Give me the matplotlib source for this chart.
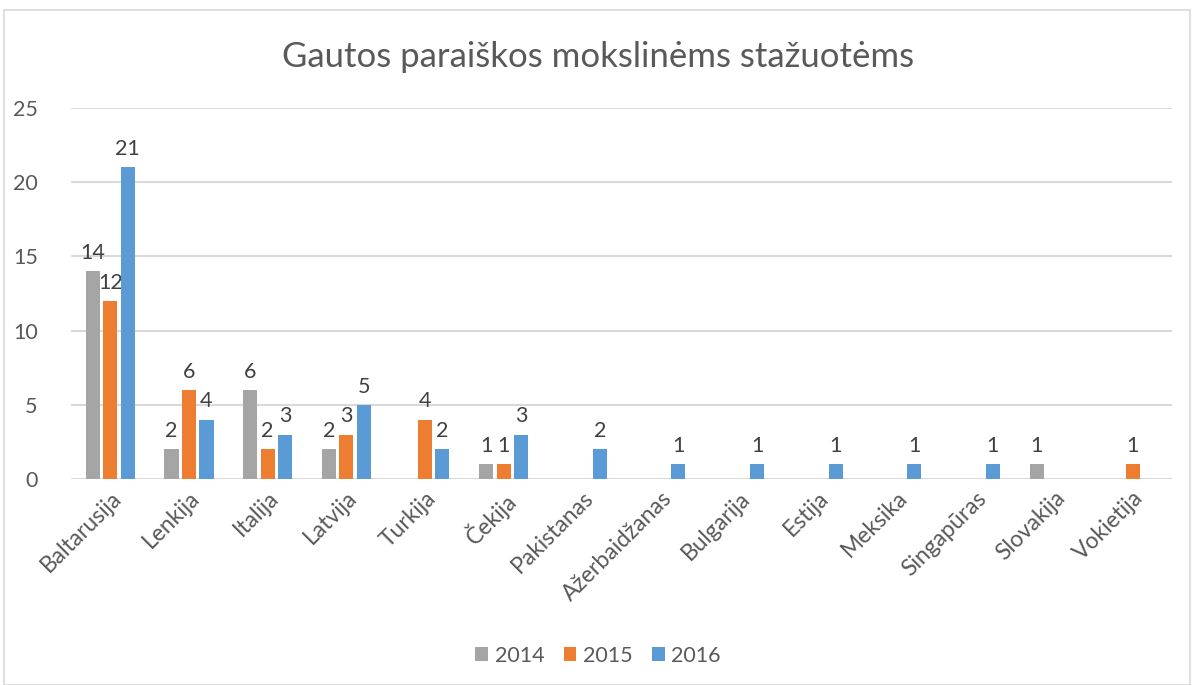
import numpy as np
import matplotlib.pyplot as plt
from matplotlib.patches import Rectangle

plt.rcParams['font.family'] = ['Lato', 'DejaVu Sans']

countries = ["Baltarusija", "Lenkija", "Italija", "Latvija", "Turkija", "Čekija",
             "Pakistanas", "Ažerbaidžanas", "Bulgarija", "Estija", "Meksika",
             "Singapūras", "Slovakija", "Vokietija"]
years = ["2014", "2015", "2016"]
v2014 = [14, 2, 6, 2, 0, 1, 0, 0, 0, 0, 0, 0, 1, 0]
v2015 = [12, 6, 2, 3, 4, 1, 0, 0, 0, 0, 0, 0, 0, 1]
v2016 = [21, 4, 3, 5, 2, 3, 2, 1, 1, 1, 1, 1, 0, 0]
colors = ["#a5a5a5", "#ed7d31", "#5b9bd5"]

fig = plt.figure(figsize=(11.96, 6.85), dpi=100)
ax = fig.add_axes([0.0594, 0.3007, 0.9206, 0.5416])

# outer frame of the chart area
fig.patches.append(Rectangle((0.003, 0.0), 0.992, 0.985, transform=fig.transFigure,
                             fill=False, edgecolor="#d9d9d9", linewidth=1.2))

x = np.arange(len(countries))
width = 0.18
step = 0.222
for i, (vals, col, yr) in enumerate(zip([v2014, v2015, v2016], colors, years)):
    vals = np.array(vals, dtype=float)
    pos = x + (i - 1) * step
    mask = vals > 0
    ax.bar(pos[mask], vals[mask], width, color=col, label=yr, zorder=3)
    for px, v in zip(pos[mask], vals[mask]):
        ax.text(px, v + 0.55, f"{int(v)}", ha="center", va="bottom",
                fontsize=15.5, color="#404040")

ax.set_xlim(-0.5, len(countries) - 0.5)
ax.set_ylim(0, 25)
ax.set_yticks([0, 5, 10, 15, 20, 25])
ax.yaxis.grid(True, color="#d9d9d9", linewidth=1.5, zorder=0)
for s in ax.spines.values():
    s.set_visible(False)
ax.tick_params(axis="both", length=0, labelsize=15.5, labelcolor="#595959")
ax.tick_params(axis="x", labelsize=16.5, pad=6)
ax.tick_params(axis="y", pad=24)
ax.set_xticks(x)
ax.set_xticklabels(countries, rotation=45, ha="right", rotation_mode="anchor")

fig.text(0.5, 0.917, "Gautos paraiškos mokslinėms stažuotėms", ha="center",
         va="center", fontsize=25, color="#595959")

fig.legend(loc="center", bbox_to_anchor=(0.5, 0.043), ncol=3, frameon=False,
           fontsize=15.5, labelcolor="#595959", handlelength=0.6, handleheight=0.6,
           handletextpad=0.3, columnspacing=0.9)

fig.savefig("out.png", dpi=100)
